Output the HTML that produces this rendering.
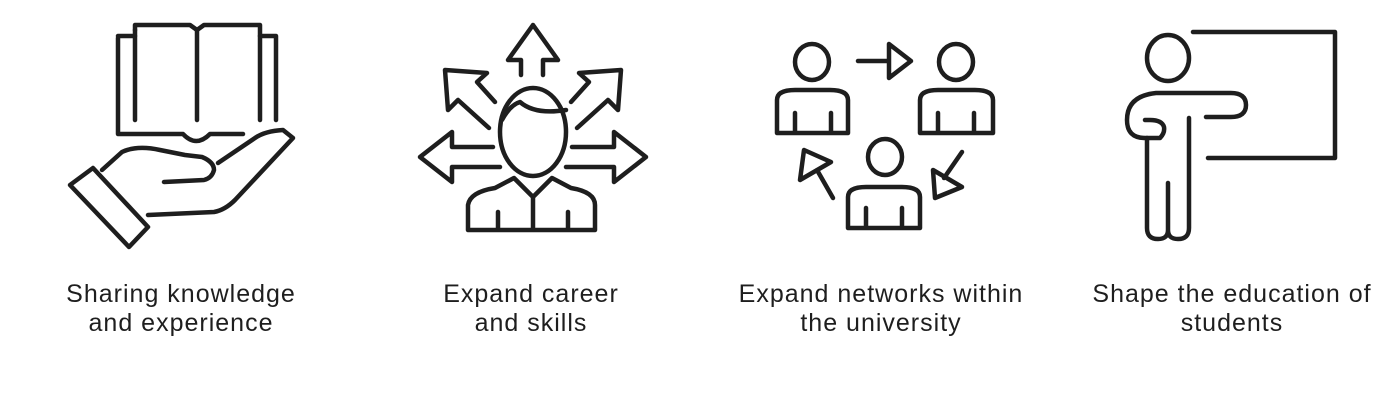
<!DOCTYPE html>
<html><head><style>
body{margin:0;width:1400px;height:420px;background:#fff;overflow:hidden;position:relative;font-family:"Liberation Sans",sans-serif;color:#1e1e1e}
svg{position:absolute;left:0;top:0}
.t{position:absolute;top:280px;width:400px;text-align:center;font-size:25px;line-height:29px;letter-spacing:1px}
</style></head><body>
<svg width="1400" height="420" fill="none" stroke="#1e1e1e" stroke-width="4.5" stroke-linecap="round" stroke-linejoin="round">
<path d="M135,120 V30 M118,38 V134 H183 Q196,148 210,134 H243"/>
<path d="M135,30 V25 H190 L197,30 L204,25 H260 V120"/>
<path d="M197,30 V120 M260,36 H276 V120 M135,36 H118"/>
<path d="M102,170 L122,152 Q137,145 160,150 L185,155 L202,157 Q214,162 214,170 Q212,178 204,180 L164,182"/>
<path d="M218,163 L255,138 Q265,131 283,130 L293,138 L235,200 Q225,210 214,212 L148,215"/>
<path d="M70,185 L93,168 L148,227 L129,247 Z"/>
<ellipse cx="533" cy="132" rx="33" ry="44"/>
<path d="M502,120 Q510,105 520,102 Q535,115 566,110"/>
<path d="M468,230 V205 Q470,192 495,188 L514,178 L533,197 L552,178 L571,188 Q595,192 595,205 V230 Z M533,197 V230 M498,212 V230 M568,212 V230"/>
<path d="M521,75 V60 H508 L533,25 L558,60 H543 V75"/>
<path d="M493,147 H452 V132 L420,157 L452,182 V167 H500"/>
<path d="M572,147 H614 V132 L646,157 L614,182 V167 H566"/>
<path d="M495,102 L477,82 L487,73 L445,70 L448,110 L458,100 L489,128"/>
<path d="M571,102 L589,82 L579,73 L621,70 L618,110 L608,100 L577,128"/>
<ellipse cx="812" cy="62" rx="17" ry="18"/>
<path d="M777,133 V100 Q777,90 795,90 H830 Q848,90 848,100 V133 Z M795,113 V133 M831,113 V133"/>
<ellipse cx="956" cy="62" rx="17" ry="18"/>
<path d="M920,133 V100 Q920,90 938,90 H975 Q993,90 993,100 V133 Z M938,113 V133 M974,113 V133"/>
<ellipse cx="885" cy="157" rx="17" ry="18"/>
<path d="M848,228 V197 Q848,187 866,187 H902 Q920,187 920,197 V228 Z M866,208 V228 M902,208 V228"/>
<path d="M858,61 H888 M889,44 L911,61 L889,78 Z"/>
<path d="M962,152 L944,178 M933,170 L935,198 L962,187 Z"/>
<path d="M833,198 L817,170 M800,180 L804,150 L831,162 Z"/>
<path d="M1193,32 H1335 V158 H1208"/>
<ellipse cx="1168" cy="58" rx="21" ry="23"/>
<path d="M1189,118 V228 Q1189,239 1178,239 Q1168,239 1168,230 V183 M1168,230 Q1168,239 1158,239 Q1147,239 1147,228 V138"/>
<path d="M1206,117 H1231 Q1246,117 1246,105 Q1246,93 1231,93 H1156 Q1127,96 1127,120 Q1127,138 1145,138 H1160 Q1165,133 1164,127 Q1162,120 1150,120 H1145"/>
</svg>
<div class="t" style="left:-19px">Sharing knowledge<br>and experience</div>
<div class="t" style="left:331px">Expand career<br>and skills</div>
<div class="t" style="left:681px">Expand networks within<br>the university</div>
<div class="t" style="left:1032px">Shape the education of<br>students</div>
</body></html>
